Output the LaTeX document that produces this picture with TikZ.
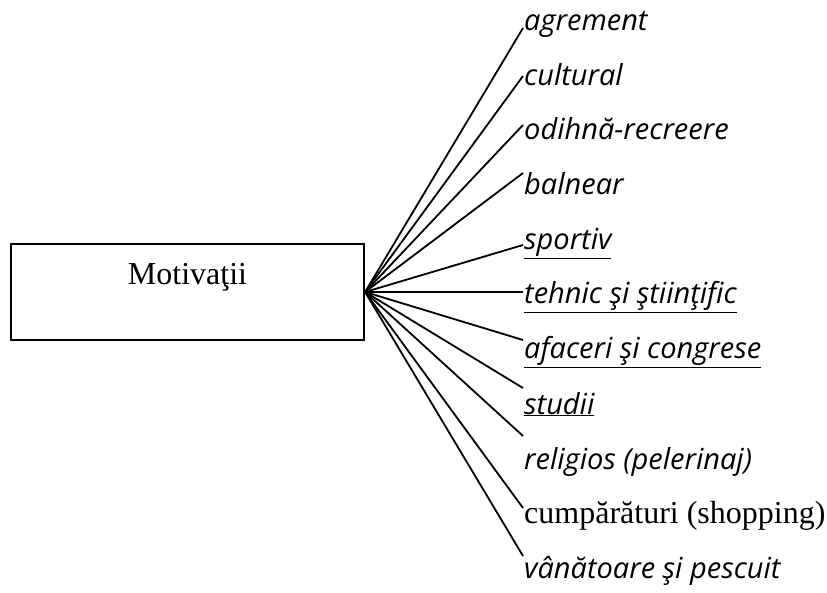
\documentclass[tikz,border=0pt]{standalone}
\usepackage{fontspec}
\setmainfont{Liberation Serif}
\newfontfamily\labfont{Open Sans}
\begin{document}
\begin{tikzpicture}[x=1pt,y=-1pt,
  boxstyle/.style={draw, line width=2.2pt, minimum width=353pt, minimum height=96pt, inner sep=0pt},
  serif/.style={font=\fontsize{32}{38}\selectfont, inner sep=0pt},
  lab/.style={anchor=base west, inner sep=0pt, font=\labfont\itshape\fontsize{29}{34}\selectfont},
  labserif/.style={anchor=base west, inner sep=0pt, font=\fontsize{32}{38}\selectfont},
  fan/.style={line width=1.8pt}]
\useasboundingbox (0,0) rectangle (827,593);
\node[boxstyle] (box) at (187.5,292) {};
\node[serif, anchor=base] (title) at (187.5,285) {Motivaţii};
% labels
\node[lab] (l1) at (524,31) {agrement};
\node[lab] (l2) at (524,86) {cultural};
\node[lab] (l3) at (524,140) {odihnă-recreere};
\node[lab] (l4) at (524,195) {balnear};
\node[lab] (l5) at (524,250) {\underline{sportiv}};
\node[lab] (l6) at (524,304) {\underline{tehnic şi ştiinţific}};
\node[lab] (l7) at (524,359) {\underline{afaceri şi congrese}};
\node[lab] (l8) at (524,414) {\underline{studii}};
\node[lab] (l9) at (524,469) {religios (pelerinaj)};
\node[labserif] (l10) at (524,523) {cumpărături (shopping)};
\node[lab] (l11) at (524,578) {vânătoare şi pescuit};
% line ends
\coordinate (e1) at (523,28);
\coordinate (e2) at (523,76);
\coordinate (e3) at (523,125);
\coordinate (e4) at (523,173);
\coordinate (e5) at (523,245);
\coordinate (e6) at (523,292);
\coordinate (e7) at (523,340);
\coordinate (e8) at (523,388);
\coordinate (e9) at (523,436);
\coordinate (e10) at (523,508);
\coordinate (e11) at (523,556);
\foreach \i in {1,...,11} {\draw[fan] (box.east) -- (e\i);}
\end{tikzpicture}
\end{document}
